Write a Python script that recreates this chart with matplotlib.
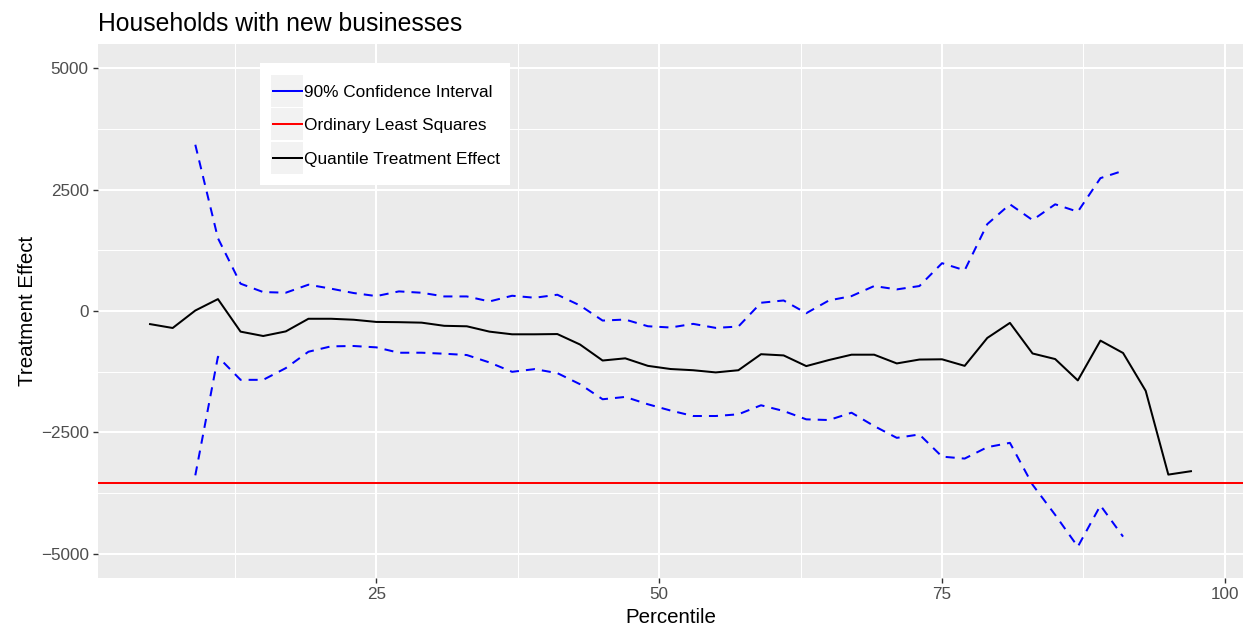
import matplotlib
matplotlib.use("Agg")
import matplotlib.pyplot as plt
from matplotlib.lines import Line2D
from matplotlib.patches import Rectangle
from matplotlib.ticker import FixedLocator

plt.rcParams.update({
    "font.family": ["Liberation Sans", "DejaVu Sans"],
    "axes.unicode_minus": True,
})

# Quantile treatment effects by percentile
percentile = [5, 7, 9, 11, 13, 15, 17, 19, 21, 23,
              25, 27, 29, 31, 33, 35, 37, 39, 41, 43,
              45, 47, 49, 51, 53, 55, 57, 59, 61, 63,
              65, 67, 69, 71, 73, 75, 77, 79, 81, 83,
              85, 87, 89, 91, 93, 95, 97]
qte = [-270, -350, 10, 245, -425, -515, -420, -160, -160, -180,
       -225, -230, -240, -305, -315, -425, -480, -480, -475, -690,
       -1020, -975, -1130, -1195, -1220, -1265, -1220, -890, -915, -1135,
       -1010, -900, -900, -1080, -1000, -995, -1130, -555, -245, -875,
       -990, -1430, -610, -865, -1645, -3370, -3300]

# 90% confidence band (available for percentiles 9..91)
ci_percentile = [9, 11, 13, 15, 17, 19, 21, 23, 25, 27,
                 29, 31, 33, 35, 37, 39, 41, 43, 45, 47,
                 49, 51, 53, 55, 57, 59, 61, 63, 65, 67,
                 69, 71, 73, 75, 77, 79, 81, 83, 85, 87,
                 89, 91]
ci_upper = [3425, 1500, 563, 390, 377, 542, 460, 370, 307, 404,
            376, 300, 300, 197, 314, 273, 335, 114, -197, -176,
            -314, -340, -265, -348, -320, 170, 217, -45, 217, 307,
            514, 445, 514, 985, 838, 1790, 2198, 1873, 2198, 2045,
            2737, 2888]
ci_lower = [-3385, -942, -1418, -1418, -1176, -839, -728, -721, -749, -860,
            -859, -880, -907, -1060, -1253, -1197, -1280, -1508, -1818, -1770,
            -1921, -2050, -2163, -2163, -2128, -1942, -2060, -2232, -2246, -2095,
            -2370, -2613, -2543, -3000, -3040, -2805, -2716, -3578, -4200, -4855,
            -4006, -4648]

ols_effect = -3550

x_ticks = [25, 50, 75, 100]
x_minor = [12.5, 37.5, 62.5, 87.5]
y_ticks = [-5000, -2500, 0, 2500, 5000]
y_minor = [-3750, -1250, 1250, 3750]

legend_labels = ["90% Confidence Interval", "Ordinary Least Squares",
                 "Quantile Treatment Effect"]
legend_colors = ["#0000FF", "#FF0000", "#000000"]

W, H = 1251, 633
fig = plt.figure(figsize=(W / 100, H / 100), dpi=100)
ax = fig.add_axes([98 / W, 1 - 578 / H, 1145 / W, 534 / H])
ax.set_facecolor("#EBEBEB")
for s in ax.spines.values():
    s.set_visible(False)

ax.set_xlim(0.4, 101.6)
ax.set_ylim(-5500, 5500)
ax.xaxis.set_major_locator(FixedLocator(x_ticks))
ax.xaxis.set_minor_locator(FixedLocator(x_minor))
ax.yaxis.set_major_locator(FixedLocator(y_ticks))
ax.yaxis.set_minor_locator(FixedLocator(y_minor))
ax.grid(which="major", color="white", lw=1.45)
ax.grid(which="minor", color="white", lw=0.72)
ax.set_axisbelow(True)
ax.tick_params(which="major", length=3.7, width=1.0, color="#333333",
               labelsize=12.3, labelcolor="#4D4D4D", pad=3)
ax.tick_params(which="minor", length=0)

ax.plot(ci_percentile, ci_upper, color="#0000FF", lw=1.45, dashes=(4.5, 3.5))
ax.plot(ci_percentile, ci_lower, color="#0000FF", lw=1.45, dashes=(4.5, 3.5))
ax.axhline(ols_effect, color="#FF0000", lw=1.45)
ax.plot(percentile, qte, color="#000000", lw=1.45)

ax.set_xlabel("Percentile", fontsize=14.8, labelpad=4)
ax.set_ylabel("Treatment Effect", fontsize=14.8, labelpad=3)
ax.set_title("Households with new businesses", fontsize=17.8, loc="left", pad=9)

# Legend drawn inside the panel, ggplot style with shaded key boxes
lax = fig.add_axes([260 / W, 1 - 185 / H, 250 / W, 122 / H])
lax.set_xlim(0, 250)
lax.set_ylim(122, 0)
lax.set_facecolor("white")
lax.set_xticks([])
lax.set_yticks([])
for s in lax.spines.values():
    s.set_visible(False)
for i, (lab, col) in enumerate(zip(legend_labels, legend_colors)):
    top = 12 + i * 33.3
    lax.add_patch(Rectangle((11, top), 32, 32, facecolor="#F2F2F2", edgecolor="none"))
    lax.add_line(Line2D([12.5, 41.5], [top + 16, top + 16], color=col, lw=1.45))
    lax.text(44, top + 17.5, lab, fontsize=12.4, va="center", ha="left", color="black")

fig.savefig("out.png", dpi=100)
